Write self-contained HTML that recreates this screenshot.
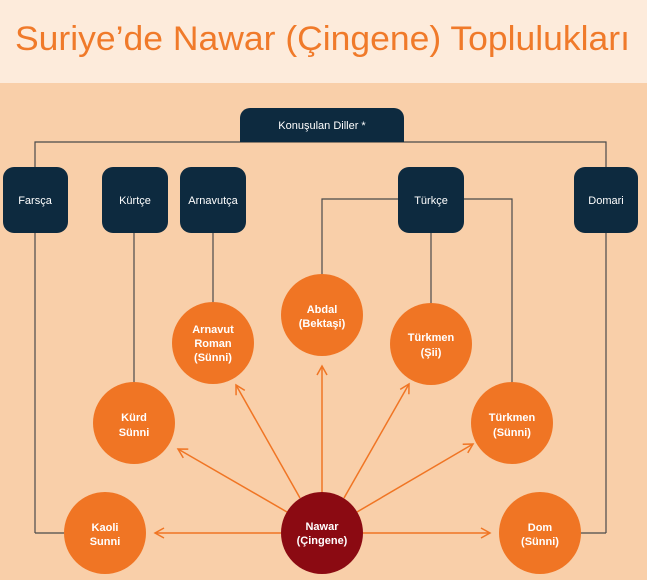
<!DOCTYPE html>
<html><head><meta charset="utf-8"><style>
body{margin:0;width:647px;height:580px;overflow:hidden;font-family:"Liberation Sans",sans-serif}
</style></head><body>
<svg width="647" height="580" viewBox="0 0 647 580" xmlns="http://www.w3.org/2000/svg" font-family="Liberation Sans, sans-serif">
<defs><marker id="a" markerWidth="12" markerHeight="12" refX="10" refY="6" orient="auto" markerUnits="userSpaceOnUse"><path d="M1,1 L10,6 L1,11" fill="none" stroke="#f07524" stroke-width="1.5"/></marker></defs>
<rect width="647" height="580" fill="#f9cfa9"/>
<rect width="647" height="83" fill="#fdebdb"/>
<text x="15" y="50" font-size="34" fill="#f07a2a" textLength="615" lengthAdjust="spacingAndGlyphs">Suriye’de Nawar (Çingene) Toplulukları</text>
<g stroke="#4a4a4a" stroke-width="1.2" fill="none">
<path d="M35,533 V142 H606 V533"/>
<path d="M134,233 V423 M213,233 V343 M431,233 V344 M322,315 V199 H512 V423"/>
<path d="M35,533 H105 M540,533 H606"/>
</g>
<g fill="#0d2a3f">
<path d="M240,142 V118 a10,10 0 0 1 10,-10 H394 a10,10 0 0 1 10,10 V142 Z"/>
<rect x="3" y="167" width="65" height="66" rx="11"/>
<rect x="102" y="167" width="66" height="66" rx="11"/>
<rect x="180" y="167" width="66" height="66" rx="11"/>
<rect x="398" y="167" width="66" height="66" rx="11"/>
<rect x="574" y="167" width="64" height="66" rx="11"/>
</g>
<g fill="#fff" font-size="11" text-anchor="middle">
<text x="322" y="129">Konuşulan Diller *</text>
<text x="35" y="204">Farsça</text>
<text x="135" y="204">Kürtçe</text>
<text x="213" y="204">Arnavutça</text>
<text x="431" y="204">Türkçe</text>
<text x="606" y="204">Domari</text>
</g>
<g stroke="#f07524" stroke-width="1.5" fill="none" marker-end="url(#a)">
<line x1="281" y1="533" x2="155" y2="533"/>
<line x1="363" y1="533" x2="490" y2="533"/>
<line x1="287" y1="512" x2="178" y2="449"/>
<line x1="300" y1="498" x2="236" y2="385"/>
<line x1="322" y1="492" x2="322" y2="366"/>
<line x1="344" y1="498" x2="409" y2="384"/>
<line x1="357" y1="512" x2="473" y2="444"/>
</g>
<g fill="#f07524">
<ellipse cx="213" cy="343" rx="41" ry="41"/>
<ellipse cx="322" cy="315" rx="41" ry="41"/>
<ellipse cx="431" cy="344" rx="41" ry="41"/>
<ellipse cx="134" cy="423" rx="41" ry="41"/>
<ellipse cx="512" cy="423" rx="41" ry="41"/>
<ellipse cx="105" cy="533" rx="41" ry="41"/>
<ellipse cx="540" cy="533" rx="41" ry="41"/>
</g>
<ellipse cx="322" cy="533" rx="41" ry="41" fill="#8b0a12"/>
<g fill="#fff" font-size="11" font-weight="bold" text-anchor="middle">
<text x="213" y="333">Arnavut</text><text x="213" y="347">Roman</text><text x="213" y="361">(Sünni)</text>
<text x="322" y="313">Abdal</text><text x="322" y="327">(Bektaşi)</text>
<text x="431" y="341">Türkmen</text><text x="431" y="356">(Şii)</text>
<text x="134" y="421">Kürd</text><text x="134" y="436">Sünni</text>
<text x="512" y="421">Türkmen</text><text x="512" y="436">(Sünni)</text>
<text x="105" y="531">Kaoli</text><text x="105" y="545">Sunni</text>
<text x="322" y="530">Nawar</text><text x="322" y="544">(Çingene)</text>
<text x="540" y="531">Dom</text><text x="540" y="545">(Sünni)</text>
</g>
</svg>
</body></html>
